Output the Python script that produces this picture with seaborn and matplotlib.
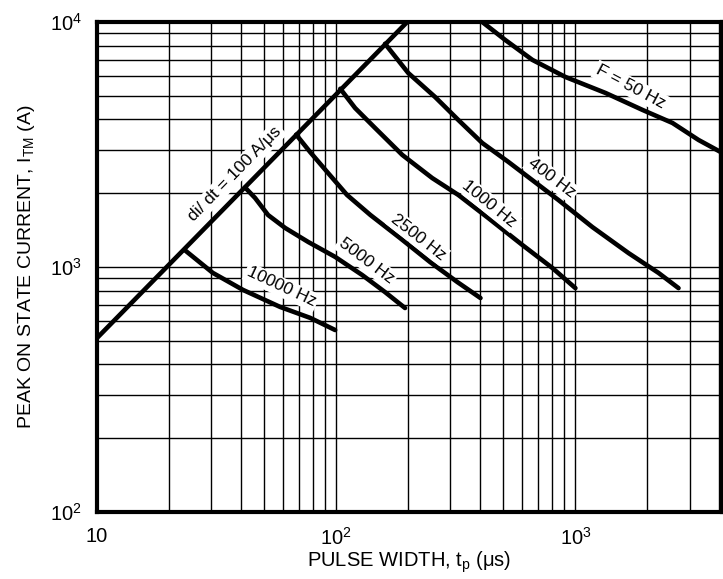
import matplotlib
matplotlib.use("Agg")
import matplotlib.pyplot as plt
import matplotlib.ticker as ticker
import seaborn as sns
import numpy as np

# di/dt limit line (pulse width in us, peak current in A)
didt_t = [10, 198]
didt_i = [513, 10000]

# constant frequency curves
f10000_t = [23.2, 30.5, 40.8, 58.3, 77.8, 99]
f10000_i = [1175, 946, 806, 687, 620, 553]

f5000_t = [41.6, 45.8, 51.9, 61.2, 76.4, 99.1, 128.5, 160, 194]
f5000_i = [2110, 1913, 1630, 1443, 1265, 1099, 927, 790, 680]

f2500_t = [68, 77.8, 91.7, 111, 139, 185, 247, 321, 401]
f2500_i = [3470, 2946, 2442, 1968, 1630, 1312, 1047, 868, 747]

f1000_t = [104, 120, 145.5, 189, 252, 324, 432, 600, 801, 1000]
f1000_i = [5340, 4453, 3690, 2866, 2307, 1968, 1585, 1230, 991, 820]

f400_t = [160, 200, 259, 324, 408, 525, 849, 1178, 1667, 2225, 2698]
f400_i = [8150, 6194, 4943, 3981, 3207, 2683, 1877, 1455, 1140, 946, 820]

f50_t = [408, 509, 661, 908, 1336, 1906, 2545, 3273, 4120]
f50_i = [10000, 8446, 7003, 5966, 5133, 4378, 3872, 3299, 2919]

curves = [
    (didt_t, didt_i),
    (f10000_t, f10000_i),
    (f5000_t, f5000_i),
    (f2500_t, f2500_i),
    (f1000_t, f1000_i),
    (f400_t, f400_i),
    (f50_t, f50_i),
]

# curve labels: text, position (t, I), screen angle
labels = [
    ("di/ dt = 100 A/\u03bcs", 37.8, 2400, 45.5),
    ("10000 Hz", 58.9, 828, -25),
    ("5000 Hz", 133.6, 1056, -37),
    ("2500 Hz", 220, 1324, -38),
    ("1000 Hz", 436, 1808, -39),
    ("400 Hz", 794, 2307, -37),
    ("F = 50 Hz", 1698, 5432, -28),
]

x_ticks = [10, 100, 1000]
x_ticklabels = ["10", r"$\mathregular{10^2}$", r"$\mathregular{10^3}$"]
y_ticks = [100, 1000, 10000]
y_ticklabels = [r"$\mathregular{10^2}$", r"$\mathregular{10^3}$", r"$\mathregular{10^4}$"]

sns.set_theme(style="white")
plt.rcParams['font.family'] = ['Liberation Sans', 'DejaVu Sans']
plt.rcParams['mathtext.fontset'] = 'custom'
plt.rcParams['mathtext.rm'] = 'Liberation Sans'

fig = plt.figure(figsize=(7.23, 5.79), dpi=100)
ax = fig.add_axes([97 / 723, 67 / 579, 625 / 723, 490 / 579])
ax.set_xscale('log')
ax.set_yscale('log')

for t, i in curves:
    sns.lineplot(x=t, y=i, ax=ax, color='black', linewidth=3.3,
                 estimator=None, sort=False, zorder=3)

for txt, tx, ty, ang in labels:
    ax.text(tx, ty, txt, rotation=ang, ha='center', va='center',
            fontsize=12.5, color='black', zorder=4, rotation_mode='anchor',
            bbox=dict(facecolor='white', edgecolor='none', pad=1.5))

ax.set_xlim(10, 4100)
ax.set_ylim(100, 10000)

ax.xaxis.set_major_locator(ticker.FixedLocator(x_ticks))
ax.yaxis.set_major_locator(ticker.FixedLocator(y_ticks))
ax.set_xticklabels(x_ticklabels)
ax.set_yticklabels(y_ticklabels)
ax.xaxis.set_minor_locator(ticker.LogLocator(base=10, subs=np.arange(2, 10)))
ax.yaxis.set_minor_locator(ticker.LogLocator(base=10, subs=np.arange(2, 10)))
ax.xaxis.set_minor_formatter(ticker.NullFormatter())
ax.yaxis.set_minor_formatter(ticker.NullFormatter())

ax.grid(which='both', color='black', linewidth=1.0, zorder=1)
ax.set_axisbelow(True)
ax.tick_params(which='both', length=0, labelsize=14.5, colors='black')
ax.tick_params(axis='x', pad=11)
ax.tick_params(axis='y', pad=11)

for s in ax.spines.values():
    s.set_linewidth(3)
    s.set_color('black')

ax.set_xlabel("PULSE WIDTH, t$_\\mathregular{p}$ (\u03bcs)", fontsize=14.5, color='black', labelpad=0)
ax.set_ylabel("PEAK ON STATE CURRENT, I$_\\mathregular{TM}$ (A)", fontsize=14, color='black', labelpad=9)

fig.savefig("out.png", dpi=100)
